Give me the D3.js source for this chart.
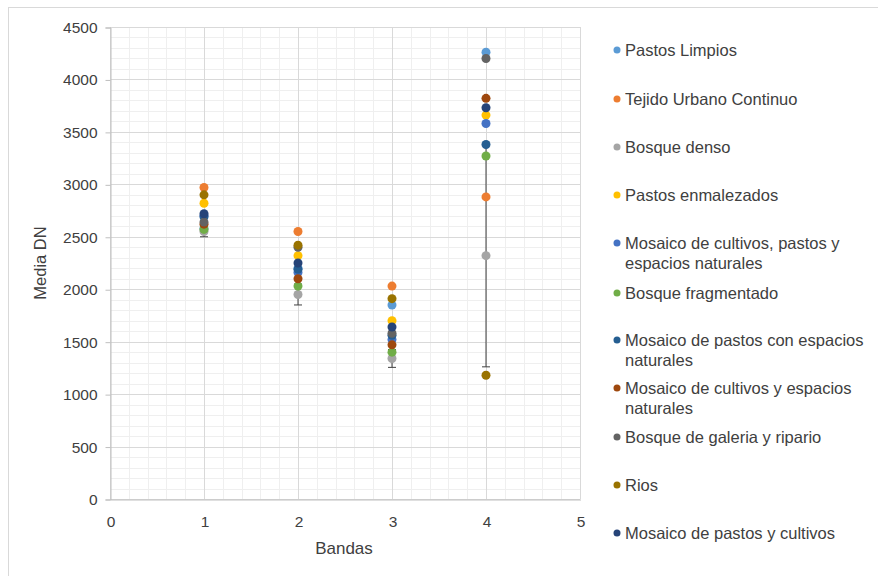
<!DOCTYPE html>
<html>
<head>
<meta charset="utf-8">
<script src="https://cdn.jsdelivr.net/npm/d3@7"></script>
<style>
  body { margin: 0; background: #fff; }
  text { font-family: 'Liberation Sans', Arial, sans-serif; fill: #404040; }
</style>
</head>
<body>
<div id="chart"></div>
<script>
const bands = [1, 2, 3, 4]

const seriesNames = [
  'Pastos Limpios',
  'Tejido Urbano Continuo',
  'Bosque denso',
  'Pastos enmalezados',
  'Mosaico de cultivos, pastos y espacios naturales',
  'Bosque fragmentado',
  'Mosaico de pastos con espacios naturales',
  'Mosaico de cultivos y espacios naturales',
  'Bosque de galeria y ripario',
  'Rios',
  'Mosaico de pastos y cultivos'
]

// legend labels as wrapped in the picture
const legendLines = [
  ['Pastos Limpios'],
  ['Tejido Urbano Continuo'],
  ['Bosque denso'],
  ['Pastos enmalezados'],
  ['Mosaico de cultivos, pastos y', 'espacios naturales'],
  ['Bosque fragmentado'],
  ['Mosaico de pastos con espacios', 'naturales'],
  ['Mosaico de cultivos y espacios', 'naturales'],
  ['Bosque de galeria y ripario'],
  ['Rios'],
  ['Mosaico de pastos y cultivos']
]

const colors = ['#5B9BD5', '#ED7D31', '#A5A5A5', '#FFC000', '#4472C4', '#70AD47',
  '#255E91', '#9E480E', '#636363', '#997300', '#264478']

// mean DN per band, one array per series
const pastosLimpios = [2580, 2200, 1850, 4260]
const tejidoUrbano = [2970, 2550, 2030, 2880]
const bosqueDenso = [2550, 1950, 1340, 2320]
const pastosEnmalezados = [2820, 2320, 1700, 3660]
const mosaicoCultivosPastos = [2700, 2160, 1520, 3580]
const bosqueFragmentado = [2570, 2030, 1400, 3270]
const mosaicoPastosEspacios = [2690, 2190, 1560, 3380]
const mosaicoCultivosEspacios = [2620, 2100, 1470, 3820]
const bosqueGaleria = [2640, 2400, 1580, 4200]
const rios = [2900, 2420, 1910, 1180]
const mosaicoPastosCultivos = [2720, 2250, 1640, 3730]

// error bars (only on Bosque denso)
const bosqueDensoError = [50, 100, 85, 1060]

const values = [pastosLimpios, tejidoUrbano, bosqueDenso, pastosEnmalezados,
  mosaicoCultivosPastos, bosqueFragmentado, mosaicoPastosEspacios,
  mosaicoCultivosEspacios, bosqueGaleria, rios, mosaicoPastosCultivos]

const xTicks = [0, 1, 2, 3, 4, 5]
const yTicks = [0, 500, 1000, 1500, 2000, 2500, 3000, 3500, 4000, 4500]

const width = 878
const height = 576

const svg = d3
  .select('#chart')
  .append('svg')
  .attr('width', width)
  .attr('height', height)

// chart frame (cut off at right and bottom in the picture)
svg
  .append('rect')
  .attr('x', 8.5)
  .attr('y', 7.5)
  .attr('width', 900)
  .attr('height', 600)
  .attr('fill', 'none')
  .attr('stroke', '#d9d9d9')

const x = d3.scaleLinear().domain([0, 5]).range([110, 580])
const y = d3.scaleLinear().domain([0, 4500]).range([499, 27])

const grid = svg.append('g')

// minor gridlines
grid
  .selectAll('.minor-x')
  .data(d3.range(0, 5.01, 0.2))
  .enter()
  .append('line')
  .attr('x1', d => Math.round(x(d)) + 0.5)
  .attr('x2', d => Math.round(x(d)) + 0.5)
  .attr('y1', y(4500))
  .attr('y2', y(0))
  .attr('stroke', '#efefef')

grid
  .selectAll('.minor-y')
  .data(d3.range(0, 4501, 100))
  .enter()
  .append('line')
  .attr('x1', x(0))
  .attr('x2', x(5))
  .attr('y1', d => Math.round(y(d)) + 0.5)
  .attr('y2', d => Math.round(y(d)) + 0.5)
  .attr('stroke', '#efefef')

// major gridlines
grid
  .selectAll('.major-x')
  .data(xTicks)
  .enter()
  .append('line')
  .attr('x1', d => Math.round(x(d)) + 0.5)
  .attr('x2', d => Math.round(x(d)) + 0.5)
  .attr('y1', y(4500))
  .attr('y2', y(0))
  .attr('stroke', '#d9d9d9')

grid
  .selectAll('.major-y')
  .data(yTicks)
  .enter()
  .append('line')
  .attr('x1', x(0))
  .attr('x2', x(5))
  .attr('y1', d => Math.round(y(d)) + 0.5)
  .attr('y2', d => Math.round(y(d)) + 0.5)
  .attr('stroke', '#d9d9d9')

// axes
const yAxis = svg
  .append('g')
  .attr('transform', `translate(${Math.round(x(0)) + 0.5},0.5)`)
  .call(d3.axisLeft(y).tickValues(yTicks).tickFormat(d3.format('d')).tickSize(5).tickPadding(8))
yAxis.select('.domain').attr('stroke', '#bfbfbf')
yAxis.selectAll('.tick line').attr('stroke', '#bfbfbf')
yAxis.selectAll('.tick text').attr('font-size', 15.5).attr('fill', '#404040')

const xAxis = svg
  .append('g')
  .attr('transform', `translate(0.5,${Math.round(y(0)) + 0.5})`)
  .call(d3.axisBottom(x).tickValues(xTicks).tickFormat(d3.format('d')).tickSize(0).tickPadding(16))
xAxis.select('.domain').attr('stroke', '#bfbfbf')
xAxis.selectAll('.tick text').attr('font-size', 15.5).attr('fill', '#404040')

svg
  .append('text')
  .attr('transform', `translate(46,${(y(0) + y(4500)) / 2}) rotate(-90)`)
  .attr('text-anchor', 'middle')
  .attr('font-size', 16.5)
  .text('Media DN')

svg
  .append('text')
  .attr('x', (x(0) + x(5)) / 2 - 1)
  .attr('y', 554)
  .attr('text-anchor', 'middle')
  .attr('font-size', 17)
  .text('Bandas')

// error bars
const err = svg.append('g')
bands.forEach((b, i) => {
  const v = bosqueDenso[i]
  const e = bosqueDensoError[i]
  err
    .append('line')
    .attr('x1', x(b))
    .attr('x2', x(b))
    .attr('y1', y(v - e))
    .attr('y2', y(v + e))
    .attr('stroke', '#404040')
    .attr('stroke-width', 1)
  ;[v - e, v + e].forEach(end => {
    err
      .append('line')
      .attr('x1', x(b) - 4)
      .attr('x2', x(b) + 4)
      .attr('y1', y(end))
      .attr('y2', y(end))
      .attr('stroke', '#404040')
  })
})

// points
values.forEach((vals, s) => {
  svg
    .append('g')
    .selectAll('circle')
    .data(vals)
    .enter()
    .append('circle')
    .attr('cx', (d, i) => x(bands[i]))
    .attr('cy', d => y(d))
    .attr('r', 4.5)
    .attr('fill', colors[s])
})

// legend
const legendY = [50, 99, 147, 195, 243, 293, 340, 388, 437, 485, 533]
const legend = svg
  .append('g')
  .selectAll('g')
  .data(seriesNames)
  .enter()
  .append('g')
  .attr('transform', (d, i) => `translate(617,${legendY[i]})`)

legend
  .append('circle')
  .attr('r', 3.5)
  .attr('fill', (d, i) => colors[i])

legend
  .append('text')
  .attr('x', 8)
  .attr('font-size', 16.5)
  .attr('fill', '#303030')
  .selectAll('tspan')
  .data((d, i) => legendLines[i])
  .enter()
  .append('tspan')
  .attr('x', 8)
  .attr('dy', (d, i) => (i === 0 ? '0.35em' : 20))
  .text(d => d)
</script>
</body>
</html>
